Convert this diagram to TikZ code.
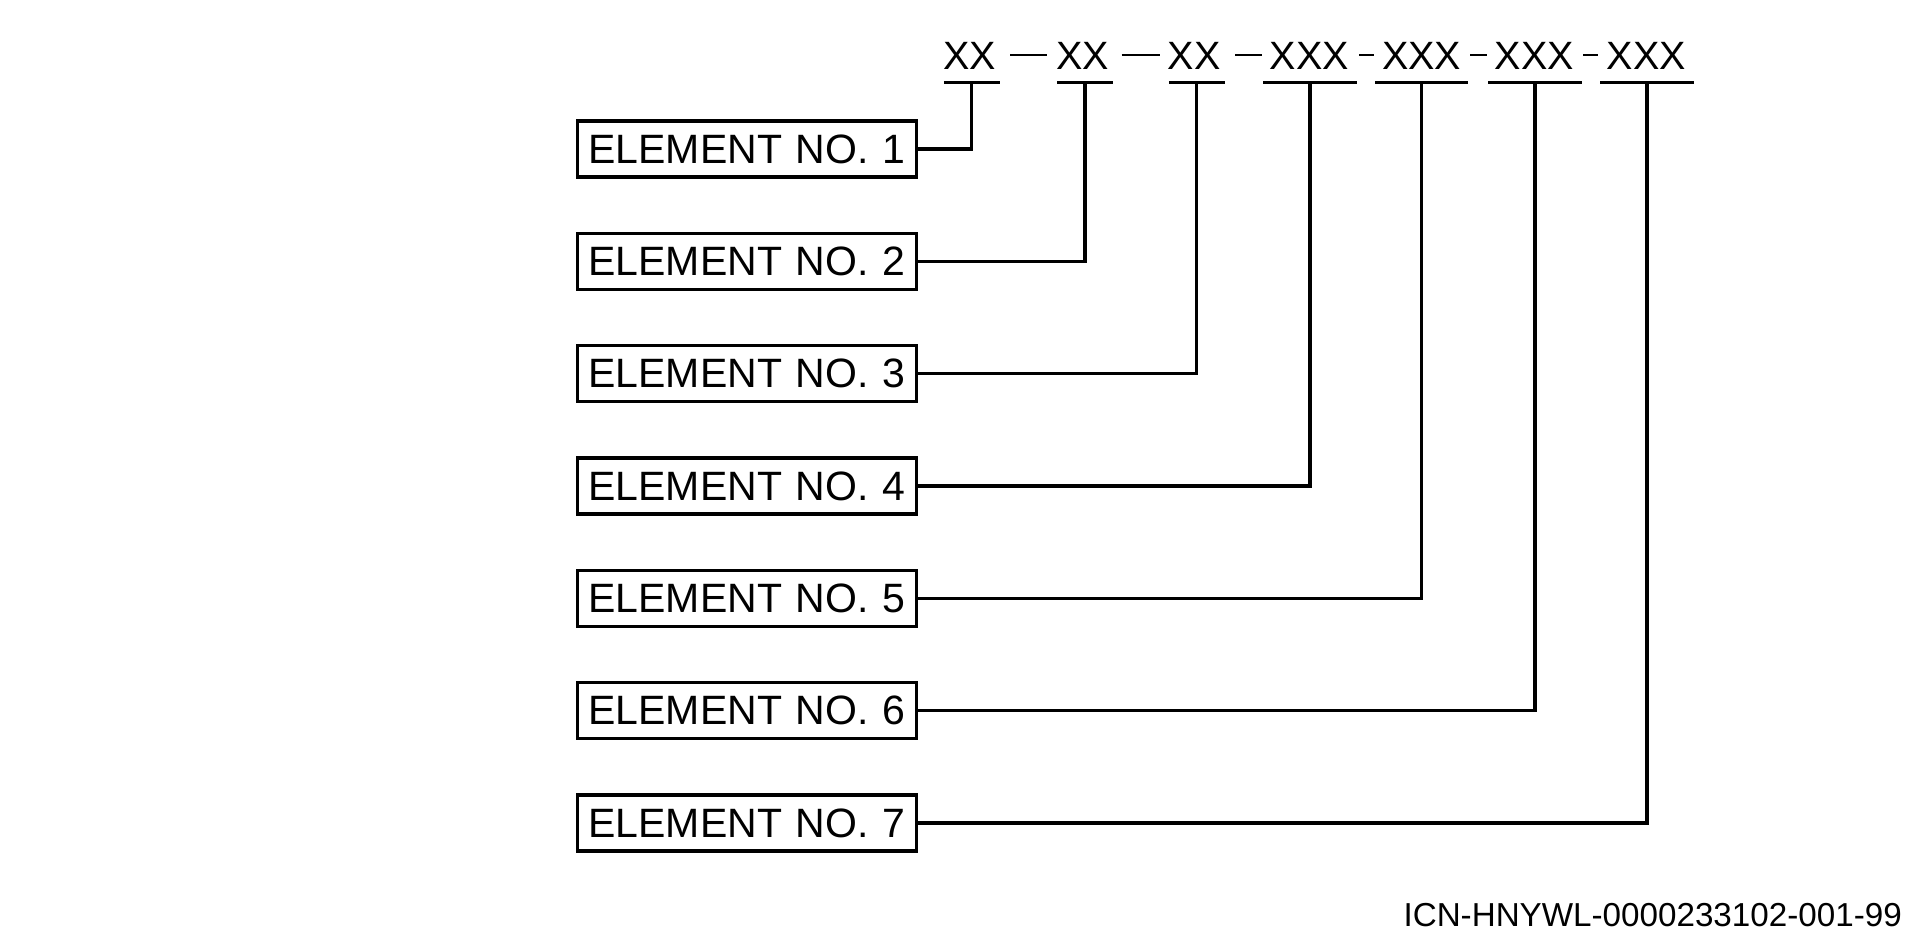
\documentclass[tikz,border=0pt]{standalone}
\usepackage{fontspec}
\setmainfont{Liberation Sans}
\begin{document}
\begin{tikzpicture}[x=1pt,y=-1pt,
  elembox/.style={draw, line width=3.3pt, minimum width=339pt, minimum height=56pt,
    inner xsep=10.8pt, inner ysep=0pt, text width=317.4pt, align=left,
    font=\fontsize{41}{48}\selectfont},
  code/.style={anchor=base, inner sep=0pt, font=\fontsize{39.5}{46}\selectfont},
  bar/.style={line width=3.3pt},
  link/.style={line width=3.3pt},
  sepline/.style={line width=2.3pt}]
\useasboundingbox (0,0) rectangle (1905,940);

% element boxes
\foreach \k in {1,...,7}{
  \node[elembox] (e\k) at (747.2,{149+112.35*(\k-1)}) {ELEMENT NO. \k};
}

% header codes
\node[code] (h1) at (969.5,69.5) {XX};
\node[code] (h2) at (1082.5,69.5) {XX};
\node[code] (h3) at (1194.2,69.5) {XX};
\node[code] (h4) at (1309.3,69.5) {XXX};
\node[code] (h5) at (1421.5,69.5) {XXX};
\node[code] (h6) at (1534.3,69.5) {XXX};
\node[code] (h7) at (1646.3,69.5) {XXX};

% bar centres
\coordinate (t1) at (971.7,82.3);
\coordinate (t2) at (1085,82.3);
\coordinate (t3) at (1196.7,82.3);
\coordinate (t4) at (1310,82.3);
\coordinate (t5) at (1421.7,82.3);
\coordinate (t6) at (1535,82.3);
\coordinate (t7) at (1647,82.3);

% underline bars
\foreach \i in {1,2,3}{
  \draw[bar] ([xshift=-27.8pt]t\i) -- ([xshift=27.8pt]t\i);
}
\foreach \i in {4,5,6,7}{
  \draw[bar] ([xshift=-46.7pt]t\i) -- ([xshift=46.7pt]t\i);
}

% separators
\draw[sepline] (1010,55) -- (1046.7,55);
\draw[sepline] (1121.7,55) -- (1160,55);
\draw[sepline] (1235,55) -- (1261.7,55);
\draw[sepline] (1359,55) -- (1374,55);
\draw[sepline] (1470,55) -- (1486.7,55);
\draw[sepline] (1583,55) -- (1598,55);

% connectors
\foreach \k in {1,...,7}{
  \draw[link] (e\k.east) -| (t\k);
}

% footer
\node[anchor=base east, inner sep=0pt, font=\fontsize{33.2}{38}\selectfont] (icn) at (1902,926) {ICN-HNYWL-0000233102-001-99};
\end{tikzpicture}
\end{document}
